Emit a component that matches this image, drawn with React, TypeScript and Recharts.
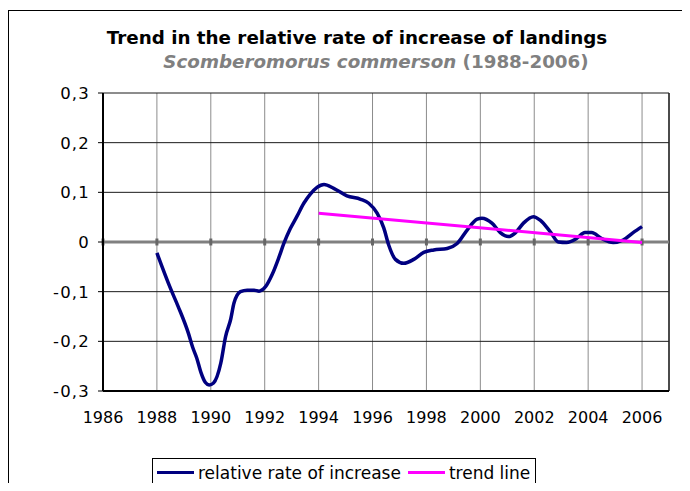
import { LineChart, Line, XAxis, YAxis, CartesianGrid, ReferenceLine } from 'recharts';

// relative rate of increase
const years = [
  1988, 1988.5, 1988.79, 1989.17, 1989.32, 1989.48, 1989.63, 1989.8, 1989.94, 1990.1,
  1990.37, 1990.55, 1990.74, 1990.86, 1991.1, 1991.35, 1991.6, 1991.79, 1992.03, 1992.28,
  1992.52, 1992.71, 1992.95, 1993.2, 1993.45, 1993.7, 1993.94, 1994.2, 1994.56, 1995.05,
  1995.56, 1995.86, 1996.17, 1996.42, 1996.6, 1996.85, 1997.16, 1997.53, 1997.9, 1998.27,
  1998.77, 1999.14, 1999.51, 1999.88, 2000.06, 2000.43, 2000.74, 2001.04, 2001.29, 2001.6,
  2001.97, 2002.22, 2002.59, 2002.9, 2003.2, 2003.57, 2003.88, 2004.13, 2004.5, 2004.93,
  2005.3, 2005.67, 2006.0,
];
const rates = [
  -0.022, -0.093, -0.13, -0.184, -0.211, -0.234, -0.262, -0.283, -0.288, -0.284,
  -0.244, -0.19, -0.155, -0.123, -0.1, -0.097, -0.097, -0.099, -0.09, -0.065,
  -0.032, -0.003, 0.027, 0.052, 0.078, 0.097, 0.11, 0.116, 0.108, 0.093,
  0.086, 0.078, 0.058, 0.028, -0.006, -0.035, -0.043, -0.035, -0.021, -0.016,
  -0.013, -0.003, 0.024, 0.046, 0.048, 0.038, 0.019, 0.011, 0.018, 0.038,
  0.051, 0.044, 0.021, 0.0, -0.001, 0.007, 0.019, 0.019, 0.007, -0.001,
  0.004, 0.019, 0.031,
];

// linear trend from 1994
const trendYears = [1994, 2006];
const trendValues = [0.058, -0.001];

const xTicks = [1986, 1988, 1990, 1992, 1994, 1996, 1998, 2000, 2002, 2004, 2006];
const yTicks = [-0.3, -0.2, -0.1, 0, 0.1, 0.2, 0.3];

const seriesName = 'relative rate of increase';
const trendName = 'trend line';

const FONT = '"DejaVu Sans", Verdana, sans-serif';

export default function App() {
  const rateData = years.map((year, i) => ({ year, rate: rates[i] }));
  const trendData = trendYears.map((year, i) => ({ year, trend: trendValues[i] }));

  const formatY = (v: number) => (v === 0 ? '0' : v.toFixed(1).replace('.', ','));

  return (
    <div style={{ position: 'relative', width: 674, height: 475, fontFamily: FONT }}>
      {/* outer frame, runs off the right and bottom of the picture */}
      <div
        style={{
          position: 'absolute', left: 0, top: 2, width: 700, height: 500,
          borderLeft: '1px solid #000', borderTop: '1px solid #000',
        }}
      />
      <div
        style={{
          position: 'absolute', left: 349 - 350, width: 700, top: 19, textAlign: 'center',
          fontSize: 18.3, fontWeight: 'bold', color: '#000', lineHeight: '22px',
        }}
      >
        Trend in the relative rate of increase of landings
      </div>
      <div
        style={{
          position: 'absolute', left: 368 - 350, width: 700, top: 43, textAlign: 'center',
          fontSize: 18.3, fontWeight: 'bold', color: '#808080', lineHeight: '22px',
        }}
      >
        <i>Scomberomorus commerson</i> (1988-2006)
      </div>

      <div style={{ position: 'absolute', left: 0, top: 0 }}>
        <LineChart width={674} height={475} margin={{ top: 85, right: 13, bottom: 62, left: 0 }}>
          <CartesianGrid horizontal={false} stroke="#8c8c8c" strokeWidth={1} />
          <CartesianGrid vertical={false} stroke="#1a1a1a" strokeWidth={1} />
          <XAxis
            type="number"
            dataKey="year"
            domain={[1986, 2007]}
            ticks={xTicks}
            allowDataOverflow
            axisLine={{ stroke: '#000', strokeWidth: 2 }}
            tickLine={false}
            tickSize={5}
            tickMargin={16}
            height={30}
            tick={{ fill: '#000', fontSize: 16, fontFamily: FONT }}
          />
          <YAxis
            type="number"
            domain={[-0.3, 0.3]}
            ticks={yTicks}
            allowDataOverflow
            width={95}
            tickFormatter={formatY}
            axisLine={{ stroke: '#000', strokeWidth: 2 }}
            tickLine={{ stroke: '#000' }}
            tickSize={5}
            tickMargin={8}
            tick={{ fill: '#000', fontSize: 16.5, fontFamily: FONT, letterSpacing: 1.2 }}
          />
          <ReferenceLine x={2007} stroke="#222" strokeWidth={1.5} />
          <ReferenceLine y={0} stroke="#808080" strokeWidth={3} />
          {xTicks.map((t) => (
            <ReferenceLine
              key={t}
              segment={[{ x: t, y: -0.007 }, { x: t, y: 0.007 }]}
              stroke="#666"
              strokeWidth={3}
            />
          ))}
          <Line
            data={rateData}
            dataKey="rate"
            name={seriesName}
            type="monotone"
            stroke="#000080"
            strokeWidth={3.5}
            dot={false}
            isAnimationActive={false}
          />
          <Line
            data={trendData}
            dataKey="trend"
            name={trendName}
            type="linear"
            stroke="#ff00ff"
            strokeWidth={3}
            dot={false}
            isAnimationActive={false}
          />
        </LineChart>
      </div>

      {/* legend box */}
      <div
        style={{
          position: 'absolute', left: 144, top: 450, width: 384, height: 29,
          border: '1px solid #000', boxSizing: 'border-box', background: '#fff',
          display: 'flex', alignItems: 'center', fontSize: 17, color: '#000', whiteSpace: 'nowrap',
        }}
      >
        <span style={{ display: 'inline-block', width: 37, height: 3, background: '#000080', marginLeft: 4, marginRight: 4 }} />
        <span>{seriesName}</span>
        <span style={{ display: 'inline-block', width: 37, height: 3, background: '#ff00ff', marginLeft: 7, marginRight: 4 }} />
        <span>{trendName}</span>
      </div>
    </div>
  );
}
